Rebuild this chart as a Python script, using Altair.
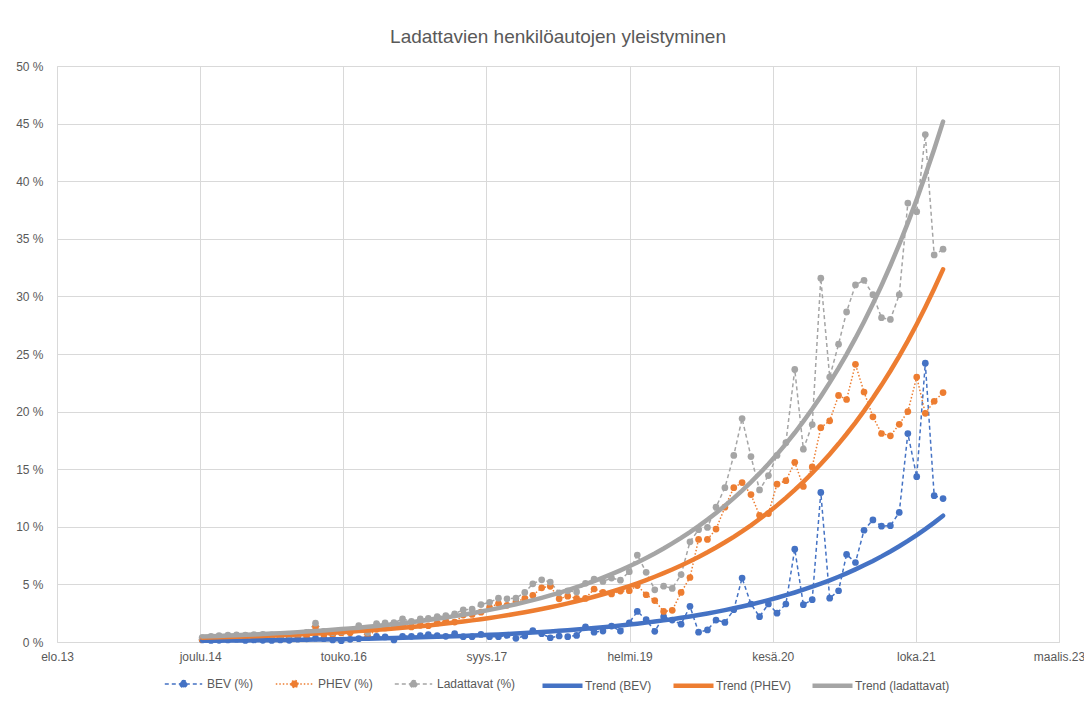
import altair as alt
import pandas as pd
from datetime import date, timedelta

# ---------------- data (monthly, Jan 2015 - Feb 2022) ----------------
months = pd.date_range("2015-01-01", periods=86, freq="MS")

bev = [
    0.18, 0.13, 0.15, 0.18, 0.24, 0.13, 0.18, 0.15, 0.13, 0.18, 0.15, 0.24,   # 2015
    0.28, 0.33, 0.29, 0.18, 0.11, 0.23, 0.29, 0.37, 0.50, 0.44, 0.18, 0.50,   # 2016
    0.49, 0.55, 0.64, 0.55, 0.49, 0.72, 0.46, 0.46, 0.66, 0.46, 0.46, 0.57,   # 2017
    0.32, 0.52, 1.00, 0.72, 0.37, 0.52, 0.46, 0.57, 1.32, 0.85, 0.95, 1.38,   # 2018
    0.95, 1.67, 2.65, 1.95, 0.93, 2.20, 1.90, 1.55, 3.10, 0.85, 1.05, 1.90,   # 2019
    1.70, 2.80, 5.55, 3.30, 2.20, 3.30, 2.50, 3.30, 8.06, 3.24, 3.67, 12.98,  # 2020
    3.80, 4.45, 7.60, 6.90, 9.70, 10.60, 10.05, 10.10, 11.25, 18.10, 14.35, 24.20,  # 2021
    12.70, 12.45,                                                             # 2022
]

phev = [
    0.21, 0.35, 0.41, 0.42, 0.39, 0.46, 0.46, 0.51, 0.49, 0.39, 0.48, 0.46,
    0.56, 1.30, 0.64, 0.64, 0.78, 0.80, 1.14, 0.45, 1.10, 1.22, 1.50, 1.50,
    1.31, 1.45, 1.41, 1.65, 1.81, 1.73, 2.34, 2.39, 2.59, 2.99, 3.34, 3.18,
    3.48, 3.78, 4.05, 4.70, 4.83, 3.75, 3.98, 3.78, 3.78, 4.60, 4.30, 4.17,
    4.42, 4.45, 4.90, 4.10, 3.60, 2.65, 2.75, 4.30, 5.60, 8.90, 8.90, 9.80,
    11.70, 13.40, 13.84, 12.80, 11.00, 11.15, 13.70, 14.00, 15.60, 13.50, 15.20, 18.60,
    19.20, 21.40, 21.05, 24.10, 21.70, 19.55, 18.10, 17.90, 18.90, 20.00, 23.00, 19.85,
    20.90, 21.65,
]

ladattavat = [
    0.39, 0.48, 0.56, 0.60, 0.63, 0.59, 0.64, 0.66, 0.62, 0.57, 0.63, 0.70,
    0.84, 1.63, 0.93, 0.82, 0.89, 1.03, 1.43, 0.82, 1.60, 1.66, 1.68, 2.00,
    1.80, 2.00, 2.05, 2.20, 2.30, 2.45, 2.80, 2.85, 3.25, 3.45, 3.80, 3.75,
    3.80, 4.30, 5.05, 5.40, 5.20, 4.27, 4.44, 4.35, 5.10, 5.45, 5.25, 5.55,
    5.37, 6.10, 7.55, 6.05, 4.53, 4.85, 4.65, 5.85, 8.70, 9.75, 9.95, 11.70,
    13.40, 16.20, 19.40, 16.10, 13.20, 14.45, 16.20, 17.30, 23.66, 16.74, 18.87, 31.58,
    23.00, 25.85, 28.65, 31.00, 31.40, 30.15, 28.15, 28.00, 30.15, 38.10, 37.35, 44.05,
    33.60, 34.10,
]

series_names = ["BEV (%)", "PHEV (%)", "Ladattavat (%)"]
trend_names = ["Trend (BEV)", "Trend (PHEV)", "Trend (ladattavat)"]
series_colors = ["#4472C4", "#ED7D31", "#A5A5A5"]

# x axis ticks: Excel date axis, major unit 500 days
axis_start = date(2013, 8, 12)
tick_step_days = 500
tick_labels = ["elo.13", "joulu.14", "touko.16", "syys.17", "helmi.19",
               "kesä.20", "loka.21", "maalis.23"]
tick_dates = [axis_start + timedelta(days=tick_step_days * k) for k in range(len(tick_labels))]
y_ticks = [0, 5, 10, 15, 20, 25, 30, 35, 40, 45, 50]

rows = []
for name, tname, vals in zip(series_names, trend_names, [bev, phev, ladattavat]):
    for d, v in zip(months, vals):
        rows.append({"date": d.strftime("%Y-%m-%d"), "series": name,
                     "trend_name": tname, "value": v})
df = pd.DataFrame(rows)


def dt(d):
    return alt.DateTime(year=d.year, month=d.month, date=d.day)


TEXT = "#595959"
GRID = "#D9D9D9"
FONT = "Liberation Sans"

label_array = "[" + ",".join("'" + s + "'" for s in tick_labels) + "]"
x_label_expr = (
    f"{label_array}[round((datum.value - time(datetime({axis_start.year},"
    f"{axis_start.month - 1},{axis_start.day}))) / {tick_step_days * 86400000})]"
)

x_enc = alt.X(
    "date:T",
    scale=alt.Scale(domain=[dt(tick_dates[0]), dt(tick_dates[-1])], nice=False),
    axis=alt.Axis(values=[dt(d) for d in tick_dates], labelExpr=x_label_expr,
                  labelFlush=False, title=None, grid=True, gridColor=GRID,
                  domain=False, ticks=False, labelPadding=9, labelColor=TEXT,
                  labelFontSize=12, labelFont=FONT),
)


def y_enc(field):
    return alt.Y(
        f"{field}:Q",
        scale=alt.Scale(domain=[0, 50], nice=False),
        axis=alt.Axis(values=y_ticks, labelExpr="datum.value + ' %'", title=None,
                      grid=True, gridColor=GRID, domain=False, ticks=False,
                      labelPadding=14, labelColor=TEXT, labelFontSize=12, labelFont=FONT),
    )


# legend symbol for the data series: a line with a round marker in the middle
marker_symbol = ("M-1,0L1,0M-0.19,0A0.19,0.19 0 1,0 0.19,0"
                 "A0.19,0.19 0 1,0 -0.19,0Z")

data_legend = alt.Legend(
    title=None, orient="none", legendX=107, legendY=598, direction="horizontal",
    symbolType=marker_symbol, symbolSize=1400, symbolStrokeWidth=1.5,
    labelFont=FONT, labelFontSize=12, labelColor=TEXT, labelOffset=4,
    columnPadding=18,
)
trend_legend = alt.Legend(
    title=None, orient="none", legendX=483, legendY=597, direction="horizontal",
    symbolType="stroke", symbolSize=1600, symbolStrokeWidth=4.5,
    labelFont=FONT, labelFontSize=12, labelColor=TEXT, labelOffset=0,
    columnPadding=12,
)

data_color = alt.Scale(domain=series_names, range=series_colors)
data_dash = alt.Scale(domain=series_names, range=[[4, 3], [1.5, 2], [4, 3]])
trend_color = alt.Scale(domain=trend_names, range=series_colors)

base = alt.Chart(df)

lines = base.mark_line(strokeWidth=1.5).encode(
    x=x_enc, y=y_enc("value"),
    color=alt.Color("series:N", scale=data_color, legend=data_legend),
    strokeDash=alt.StrokeDash("series:N", scale=data_dash, legend=data_legend),
)

points = base.mark_circle(size=45, opacity=1).encode(
    x=x_enc, y=y_enc("value"),
    color=alt.Color("series:N", scale=data_color, legend=data_legend),
)

# Excel-style exponential trend: least squares of ln(value) against date
trend = base.transform_calculate(
    t="toNumber(toDate(datum.date)) / 86400000",
    ly="log(datum.value)",
).transform_joinaggregate(
    mt="mean(t)", mly="mean(ly)", groupby=["trend_name"]
).transform_calculate(
    sxy="(datum.t - datum.mt) * (datum.ly - datum.mly)",
    sxx="(datum.t - datum.mt) * (datum.t - datum.mt)",
).transform_joinaggregate(
    Sxy="sum(sxy)", Sxx="sum(sxx)", groupby=["trend_name"]
).transform_calculate(
    trend="exp(datum.mly + datum.Sxy / datum.Sxx * (datum.t - datum.mt))",
).mark_line(strokeWidth=4.5, strokeCap="round").encode(
    x=x_enc, y=y_enc("trend"),
    color=alt.Color("trend_name:N", scale=trend_color, legend=trend_legend),
)

data_layer = alt.layer(lines, points)

chart = alt.layer(data_layer, trend).resolve_scale(
    color="independent", strokeDash="independent"
).resolve_legend(color="independent", strokeDash="independent").properties(
    width=1002, height=576,
    autosize=alt.AutoSizeParams(type="none"),
    padding={"left": 49, "top": 58, "right": 25, "bottom": 52},
    title=alt.TitleParams("Ladattavien henkilöautojen yleistyminen", font=FONT,
                          fontSize=19, fontWeight="normal", color=TEXT, offset=13,
                          anchor="middle"),
).configure_view(stroke=None).configure(background="white")

chart.save("out.html", embed_options={"renderer": "svg", "actions": False})
